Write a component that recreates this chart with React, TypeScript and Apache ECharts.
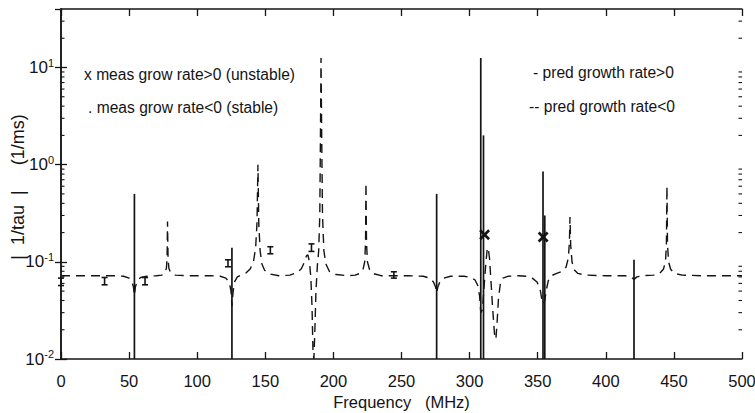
import React, { useEffect, useRef } from "react";
import * as echarts from "echarts";

const Y_MIN = 0.01;
const Y_MAX = 40;
const X_MIN = 0;
const X_MAX = 500;

// predicted |1/tau| for growth rate < 0 (dashed curve), [MHz, 1/ms]
const dashedCurve: [number, number][] = [
  [0, 0.072], [20, 0.072], [40, 0.072], [46, 0.071], [50, 0.068], [52, 0.063], [53.2, 0.055], [53.9, 0.045],
  [54.6, 0.055], [56, 0.064], [58.5, 0.069], [63, 0.071], [70, 0.072], [74, 0.073], [76.3, 0.077],
  [77.4, 0.086], [77.9, 0.11], [78.2, 0.26], [78.6, 0.11], [79.2, 0.086], [80.5, 0.077], [84, 0.073],
  [95, 0.072], [110, 0.072], [117, 0.071], [121, 0.068], [123.5, 0.062], [124.8, 0.05], [125.5, 0.035],
  [126.4, 0.05], [127.6, 0.063], [129.5, 0.07], [132, 0.073], [136, 0.077], [139, 0.085], [141.3, 0.1],
  [142.9, 0.14], [143.9, 0.25], [144.6, 1.0], [145.2, 0.25], [146.2, 0.13], [147.5, 0.095], [149.5, 0.082],
  [153, 0.075], [160, 0.072], [168, 0.073], [173, 0.077], [176.5, 0.085], [178.8, 0.1], [180.2, 0.115],
  [181.3, 0.118], [182.4, 0.1], [183.4, 0.07], [184.3, 0.035], [185.0, 0.012], [185.7, 0.01], [186.4, 0.02],
  [187.2, 0.05], [188.2, 0.09], [189.2, 0.13], [190.0, 0.3], [190.5, 2.0], [190.9, 12.5], [191.4, 2.0],
  [192.0, 0.3], [193.0, 0.13], [194.5, 0.095], [197, 0.08], [202, 0.074], [210, 0.072], [216, 0.073],
  [219.5, 0.076], [221.8, 0.084], [223.0, 0.1], [223.6, 0.16], [223.9, 0.65], [224.3, 0.16], [225.0, 0.1],
  [226.5, 0.084], [229, 0.076], [235, 0.072], [255, 0.072], [266, 0.071], [270.5, 0.068], [273.5, 0.062],
  [275.0, 0.055], [275.8, 0.048], [276.7, 0.055], [278.3, 0.063], [281, 0.068], [286, 0.071], [296, 0.071],
  [301, 0.069], [304, 0.065], [306, 0.057], [307.3, 0.045], [308.2, 0.03], [309.4, 0.032], [310.4, 0.05],
  [311.6, 0.085], [312.8, 0.13], [313.6, 0.14], [314.6, 0.11], [315.8, 0.06], [317.0, 0.032], [318.3, 0.018],
  [319.3, 0.016], [320.2, 0.024], [321.2, 0.042], [322.6, 0.06], [324.5, 0.068], [328, 0.071], [336, 0.072],
  [342, 0.071], [346, 0.068], [349.5, 0.062], [351.8, 0.052], [353.2, 0.04], [354.1, 0.037], [355.2, 0.04],
  [356.4, 0.052], [357.8, 0.064], [360, 0.072], [364, 0.076], [368, 0.08], [370.8, 0.088], [372.5, 0.11],
  [373.3, 0.16], [373.7, 0.29], [374.2, 0.15], [375.2, 0.1], [376.8, 0.083], [379.5, 0.076], [385, 0.073],
  [400, 0.072], [414, 0.072], [418.5, 0.07], [420.7, 0.066], [422.8, 0.07], [427, 0.072], [435, 0.073],
  [439.5, 0.076], [442.3, 0.084], [443.8, 0.1], [444.5, 0.15], [444.9, 0.6], [445.3, 0.15], [446.1, 0.1],
  [447.6, 0.084], [450.5, 0.076], [456, 0.073], [470, 0.072], [485, 0.072], [500, 0.072],
];

// predicted growth rate > 0 (solid spikes): [MHz, top value]
const solidSpikes: [number, number][] = [
  [53.9, 0.5], [125.5, 0.14], [275.8, 0.5], [308.2, 12.5], [310.2, 2.0], [353.9, 0.85], [355.2, 0.3],
  [420.7, 0.105],
];

// measured growth rate < 0 (stable): [MHz, low, high]
const stableBars: [number, number, number][] = [
  [0, 0.057, 0.068], [32, 0.058, 0.069], [61.7, 0.058, 0.069], [122.6, 0.089, 0.105],
  [153.7, 0.121, 0.143], [183.9, 0.128, 0.153], [244.4, 0.068, 0.079],
];

// measured growth rate > 0 (unstable): [MHz, value]
const unstablePts: [number, number][] = [
  [311, 0.19], [354, 0.18],
];

const yMinorTicks = [
  0.02, 0.03, 0.04, 0.05, 0.06, 0.07, 0.08, 0.09,
  0.2, 0.3, 0.4, 0.5, 0.6, 0.7, 0.8, 0.9,
  2, 3, 4, 5, 6, 7, 8, 9,
  20, 30,
];

const FONT = "'Liberation Sans', Arial, Helvetica, sans-serif";
const INK = "#141414";

export default function App() {
  const ref = useRef<HTMLDivElement>(null);

  useEffect(() => {
    if (!ref.current) return;
    const chart = echarts.init(ref.current, undefined, { renderer: "svg" });

    const decadeLabel = (v: number) => {
      const e = Math.log10(v);
      const r = Math.round(e);
      if (Math.abs(e - r) > 1e-6) return "";
      return `{b|10}{s|${r}}`;
    };

    const option: any = {
      animation: false,
      backgroundColor: "#ffffff",
      grid: { left: 61, right: 13, top: 9, bottom: 54, containLabel: false, outerBoundsMode: "none" },
      xAxis: [
        {
          type: "value",
          min: X_MIN,
          max: X_MAX,
          interval: 50,
          position: "bottom",
          name: "Frequency   (MHz)",
          nameLocation: "middle",
          nameGap: 32,
          nameTextStyle: { fontFamily: FONT, fontSize: 16.5, color: INK },
          axisLine: { show: true, lineStyle: { color: INK, width: 1.5 } },
          axisTick: { show: true, inside: true, length: 7, lineStyle: { color: INK, width: 1.3 } },
          axisLabel: { fontFamily: FONT, fontSize: 16.5, color: INK, margin: 13 },
          splitLine: { show: false },
        },
        {
          type: "value",
          min: X_MIN,
          max: X_MAX,
          interval: 50,
          position: "top",
          axisLine: { show: true, lineStyle: { color: INK, width: 1.5 } },
          axisTick: { show: true, inside: true, length: 7, lineStyle: { color: INK, width: 1.3 } },
          axisLabel: { show: false },
          splitLine: { show: false },
        },
      ],
      yAxis: [
        {
          type: "log",
          logBase: 10,
          min: Y_MIN,
          max: Y_MAX,
          position: "left",
          axisLine: { show: true, lineStyle: { color: INK, width: 1.5 } },
          axisTick: { show: true, inside: true, length: 6, lineStyle: { color: INK, width: 1.3 } },
          axisLabel: {
            formatter: decadeLabel,
            margin: 7,
            showMaxLabel: false,
            rich: {
              b: { fontFamily: FONT, fontSize: 17, color: INK },
              s: { fontFamily: FONT, fontSize: 11, color: INK, verticalAlign: "top", padding: [0, 0, 10, 0] },
            },
          },
          splitLine: { show: false },
          minorTick: { show: false },
        },
        {
          type: "log",
          logBase: 10,
          min: Y_MIN,
          max: Y_MAX,
          position: "right",
          axisLine: { show: true, lineStyle: { color: INK, width: 1.5 } },
          axisTick: { show: true, inside: true, length: 6, lineStyle: { color: INK, width: 1.3 } },
          axisLabel: { show: false },
          splitLine: { show: false },
        },
      ],
      graphic: [
        {
          type: "text",
          x: 18,
          y: 187,
          rotation: Math.PI / 2,
          style: {
            text: "|  1/tau  |     (1/ms)",
            font: `18px ${FONT}`,
            fill: INK,
            align: "center",
            verticalAlign: "middle",
          },
        },
        { type: "text", left: 84, top: 66, style: { text: "x meas grow rate>0 (unstable)", font: `15.6px ${FONT}`, fill: INK } },
        { type: "text", left: 88, top: 99, style: { text: ". meas grow rate<0 (stable)", font: `15.6px ${FONT}`, fill: INK } },
        { type: "text", left: 533, top: 64, style: { text: "- pred growth rate>0", font: `15.6px ${FONT}`, fill: INK } },
        { type: "text", left: 529, top: 98, style: { text: "-- pred growth rate<0", font: `15.6px ${FONT}`, fill: INK } },
      ],
      series: [
        {
          name: "pred growth rate<0",
          type: "line",
          data: dashedCurve,
          showSymbol: false,
          symbol: "none",
          smooth: false,
          lineStyle: { color: INK, width: 1.4, type: [9, 6] },
          z: 3,
        },
        {
          name: "pred growth rate>0",
          type: "custom",
          data: solidSpikes,
          encode: { x: 0, y: 1 },
          renderItem: (_p: any, api: any) => {
            const x = api.value(0);
            const top = api.value(1);
            const a = api.coord([x, Y_MIN]);
            const b = api.coord([x, top]);
            return {
              type: "line",
              shape: { x1: a[0], y1: a[1], x2: b[0], y2: b[1] },
              style: { stroke: INK, lineWidth: 1.7 },
            };
          },
          z: 4,
        },
        {
          name: "meas grow rate<0",
          type: "custom",
          data: stableBars,
          encode: { x: 0, y: [1, 2] },
          renderItem: (_p: any, api: any) => {
            const x = api.value(0);
            const lo = api.coord([x, api.value(1)]);
            const hi = api.coord([x, api.value(2)]);
            const w = 3;
            const st = { stroke: INK, lineWidth: 1.6 };
            return {
              type: "group",
              children: [
                { type: "line", shape: { x1: lo[0], y1: lo[1], x2: hi[0], y2: hi[1] }, style: st },
                { type: "line", shape: { x1: lo[0] - w, y1: lo[1], x2: lo[0] + w, y2: lo[1] }, style: st },
                { type: "line", shape: { x1: hi[0] - w, y1: hi[1], x2: hi[0] + w, y2: hi[1] }, style: st },
              ],
            };
          },
          z: 5,
        },
        {
          name: "meas grow rate>0",
          type: "custom",
          data: unstablePts,
          encode: { x: 0, y: 1 },
          renderItem: (_p: any, api: any) => {
            const c = api.coord([api.value(0), api.value(1)]);
            const r = 4.5;
            const st = { stroke: INK, lineWidth: 2.6 };
            return {
              type: "group",
              children: [
                { type: "line", shape: { x1: c[0] - r, y1: c[1] - r, x2: c[0] + r, y2: c[1] + r }, style: st },
                { type: "line", shape: { x1: c[0] - r, y1: c[1] + r, x2: c[0] + r, y2: c[1] - r }, style: st },
              ],
            };
          },
          z: 6,
        },
        {
          name: "minor ticks",
          type: "custom",
          data: yMinorTicks.map((v) => [X_MIN, v]),
          encode: { x: 0, y: 1 },
          silent: true,
          renderItem: (_p: any, api: any) => {
            const v = api.value(1);
            const l = api.coord([X_MIN, v]);
            const r = api.coord([X_MAX, v]);
            const st = { stroke: INK, lineWidth: 1.1 };
            const len = 3.5;
            return {
              type: "group",
              children: [
                { type: "line", shape: { x1: l[0], y1: l[1], x2: l[0] + len, y2: l[1] }, style: st },
                { type: "line", shape: { x1: r[0] - len, y1: r[1], x2: r[0], y2: r[1] }, style: st },
              ],
            };
          },
          z: 2,
        },
      ],
    };

    chart.setOption(option);
    return () => chart.dispose();
  }, []);

  return (
    <div
      ref={ref}
      style={{ position: "absolute", left: 0, top: 0, width: 755, height: 413, background: "#fff" }}
    />
  );
}
